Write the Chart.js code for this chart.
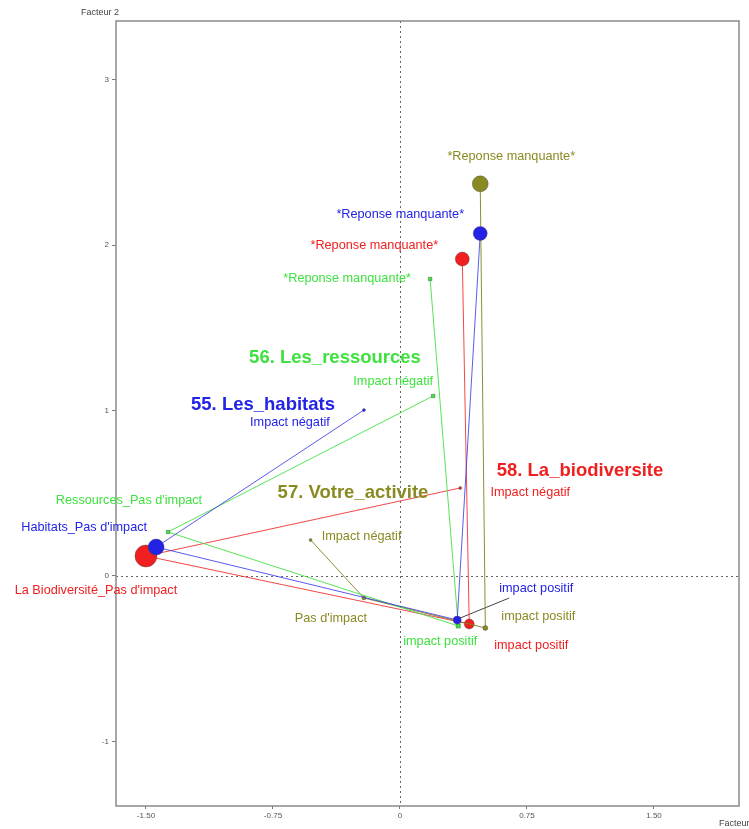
<!DOCTYPE html>
<html>
<head>
<meta charset="utf-8">
<script src="https://cdn.jsdelivr.net/npm/chart.js"></script>
<style>
  html, body { margin: 0; padding: 0; background: #fff; }
  canvas { display: block; }
</style>
</head>
<body>
<canvas id="carte" width="749" height="829"></canvas>
<script>
// Données : coordonnées des modalités sur les facteurs 1 et 2
const xTicks = [-1.5, -0.75, 0, 0.75, 1.5];
const yTicks = [-1, 0, 1, 2, 3];

const habitatsLabels = ['Impact négatif', "Habitats_Pas d'impact", 'impact positif', '*Reponse manquante*'];
const habitatsX = [-0.213, -1.44, 0.338, 0.474];
const habitatsY = [1.003, 0.175, -0.266, 2.07];

const ressourcesLabels = ['Impact négatif', "Ressources_Pas d'impact", 'impact positif', '*Reponse manquante*'];
const ressourcesX = [0.196, -1.37, 0.344, 0.178];
const ressourcesY = [1.088, 0.266, -0.302, 1.795];

const activiteLabels = ['Impact négatif', "Pas d'impact", 'impact positif', '*Reponse manquante*'];
const activiteX = [-0.528, -0.213, 0.504, 0.474];
const activiteY = [0.218, -0.133, -0.314, 2.37];

const biodivLabels = ['Impact négatif', "La Biodiversité_Pas d'impact", 'impact positif', '*Reponse manquante*'];
const biodivX = [0.356, -1.50, 0.409, 0.368];
const biodivY = [0.532, 0.121, -0.29, 1.915];

const variableTitles = ['55. Les_habitats', '56. Les_ressources', '57. Votre_activite', '58. La_biodiversite'];

// Style (tailles, couleurs, décalages des étiquettes en pixels)
const styles = [
    { color: '#2323e6', line: 'rgba(50,50,230,0.8)', radius: [1.5, 8, 4, 7], shape: 'circle',
      offsets: [[-74, 12], [-72, -20], [79, -32], [-80, -19]], title: [263, 405] },
    { color: '#3ee23e', line: 'rgba(70,225,70,0.9)', radius: [2.5, 2.5, 3, 2.5], shape: 'rect',
      offsets: [[-40, -14], [-39, -31], [-18, 16], [-83, 0]], title: [335, 358] },
    { color: '#8a8a22', line: 'rgba(130,130,30,0.9)', radius: [1.5, 2, 2.5, 8], shape: 'circle',
      offsets: [[51, -3], [-33, 20], [53, -11], [31, -27]], title: [353, 493] },
    { color: '#f02020', line: 'rgba(240,40,40,0.85)', radius: [1.5, 11, 5, 7], shape: 'circle',
      offsets: [[70, 5], [-50, 35], [62, 22], [-88, -14]], title: [580, 471] }
];

const series = [
    [habitatsX, habitatsY, habitatsLabels],
    [ressourcesX, ressourcesY, ressourcesLabels],
    [activiteX, activiteY, activiteLabels],
    [biodivX, biodivY, biodivLabels]
];

const datasets = series.map(function(s, i) {
    const st = styles[i];
    return {
        label: variableTitles[i],
        data: s[0].map(function(x, k) { return { x: x, y: s[1][k] }; }),
        showLine: true,
        borderColor: st.line,
        borderWidth: 1,
        pointRadius: st.radius,
        pointStyle: st.shape,
        pointBackgroundColor: st.color,
        pointBorderColor: 'rgba(60,60,60,0.6)',
        pointBorderWidth: 0.6
    };
});

const decorPlugin = {
    id: 'decor',
    beforeDatasetsDraw: function(chart) {
        const ctx = chart.ctx;
        const a = chart.chartArea;
        const xs = chart.scales.x, ys = chart.scales.y;
        ctx.save();
        ctx.strokeStyle = '#666';
        ctx.lineWidth = 1;
        ctx.setLineDash([2, 3]);
        const x0 = Math.round(xs.getPixelForValue(0)) + 0.5;
        const y0 = Math.round(ys.getPixelForValue(0)) + 0.5;
        ctx.beginPath();
        ctx.moveTo(x0, a.top); ctx.lineTo(x0, a.bottom);
        ctx.moveTo(a.left, y0); ctx.lineTo(a.right, y0);
        ctx.stroke();
        ctx.setLineDash([]);
        // cadre
        ctx.strokeStyle = '#8a8a8a';
        ctx.lineWidth = 1.5;
        ctx.strokeRect(a.left, a.top, a.right - a.left, a.bottom - a.top);
        // ligne de rappel (habitats, impact positif)
        const p = chart.getDatasetMeta(0).data[2];
        ctx.strokeStyle = '#444';
        ctx.lineWidth = 1;
        ctx.beginPath();
        ctx.moveTo(p.x + 3, p.y - 2);
        ctx.lineTo(p.x + 52, p.y - 22);
        ctx.stroke();
        ctx.restore();
    },
    afterDatasetsDraw: function(chart) {
        const ctx = chart.ctx;
        ctx.save();
        ctx.textAlign = 'center';
        ctx.textBaseline = 'middle';
        series.forEach(function(s, i) {
            const st = styles[i];
            const meta = chart.getDatasetMeta(i);
            ctx.fillStyle = st.color;
            ctx.font = '12.7px "Liberation Sans", Arial, sans-serif';
            s[2].forEach(function(lbl, k) {
                const pt = meta.data[k];
                ctx.fillText(lbl, pt.x + st.offsets[k][0], pt.y + st.offsets[k][1]);
            });
            ctx.font = 'bold 18.5px "Liberation Sans", Arial, sans-serif';
            ctx.fillText(variableTitles[i], st.title[0], st.title[1]);
        });
        // titres des axes
        ctx.fillStyle = '#444';
        ctx.font = '9px "Liberation Sans", Arial, sans-serif';
        ctx.textAlign = 'right';
        ctx.fillText('Facteur 2', 119, 13);
        ctx.textAlign = 'left';
        ctx.fillText('Facteur 1', 719, 824);
        ctx.restore();
    }
};

new Chart(document.getElementById('carte'), {
    type: 'scatter',
    data: { datasets: datasets },
    options: {
        responsive: false,
        animation: false,
        layout: { padding: { left: 0, top: 21, right: 10, bottom: 0 } },
        plugins: { legend: { display: false }, tooltip: { enabled: false } },
        scales: {
            x: {
                type: 'linear',
                min: -1.677,
                max: 2.002,
                afterBuildTicks: function(scale) {
                    scale.ticks = xTicks.map(function(v) { return { value: v }; });
                },
                afterFit: function(scale) { scale.height = 23; },
                border: { display: false },
                grid: { drawOnChartArea: false, tickLength: 3, color: '#777' },
                ticks: {
                    autoSkip: false,
                    maxRotation: 0,
                    padding: 2,
                    color: '#555',
                    font: { size: 8, family: '"Liberation Sans", Arial, sans-serif' },
                    callback: function(v) { return v === 0 ? '0' : v.toFixed(2); }
                }
            },
            y: {
                type: 'linear',
                min: -1.39,
                max: 3.354,
                afterBuildTicks: function(scale) {
                    scale.ticks = yTicks.map(function(v) { return { value: v }; });
                },
                afterFit: function(scale) { scale.width = 116; },
                border: { display: false },
                grid: { drawOnChartArea: false, tickLength: 4, color: '#777' },
                ticks: {
                    autoSkip: false,
                    padding: 3,
                    color: '#555',
                    font: { size: 8, family: '"Liberation Sans", Arial, sans-serif' },
                    callback: function(v) { return String(v); }
                }
            }
        }
    },
    plugins: [decorPlugin]
});
</script>
</body>
</html>
